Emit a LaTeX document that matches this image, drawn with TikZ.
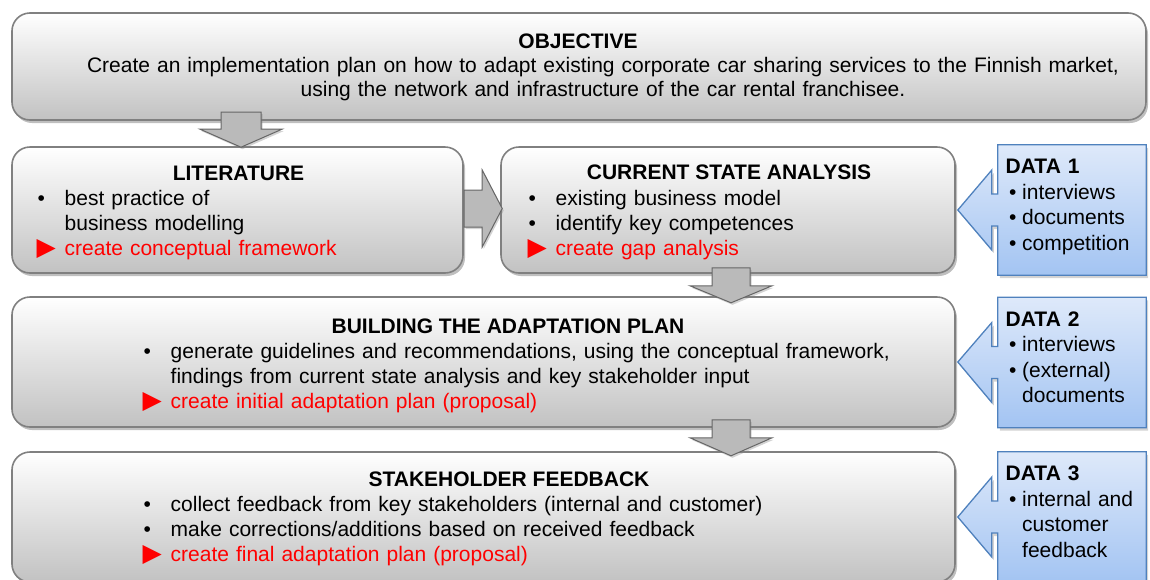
\documentclass[tikz,border=0pt]{standalone}
\usepackage{fontspec}
\setmainfont{Liberation Sans}
\newfontfamily\trifont{DejaVu Sans}
\usepackage{tikz}
\usetikzlibrary{shapes.geometric, arrows, shadows, calc, positioning}
\definecolor{calltop}{RGB}{222,233,250}
\definecolor{callbot}{RGB}{163,196,242}
\definecolor{callline}{RGB}{79,129,189}
\newcommand{\itembul}{\makebox[28pt][l]{\hspace{1pt}\textbullet}}
\newcommand{\itemtri}{\makebox[28pt][l]{\trifont\fontsize{25}{25}\selectfont ▶}}
\newcommand{\itemskip}{\hspace*{28pt}}
\newcommand{\databul}{\makebox[16.5pt][l]{\hspace{3.5pt}\textbullet}}
\newcommand{\dataskip}{\hspace*{16.5pt}}
\tikzstyle{stagebox} = [rectangle, rounded corners=18pt, draw=black!50, line width=1.6pt, top color=white, bottom color=black!24, drop shadow={shadow xshift=2pt, shadow yshift=-3pt, opacity=0.5}]
\tikzstyle{databox} = [rectangle, minimum width=148pt, minimum height=130pt, inner sep=0pt]
\tikzstyle{datacall} = [draw=callline, line width=1.3pt, top color=calltop, bottom color=callbot, drop shadow={shadow xshift=2pt, shadow yshift=-3pt, opacity=0.35}]
\tikzstyle{blockarrow} = [draw=black!60, line width=1pt, fill=black!27, drop shadow={shadow xshift=1.5pt, shadow yshift=-2pt, opacity=0.35}]
\tikzstyle{boxtitle} = [inner sep=0pt, anchor=base, font=\fontsize{21}{25}\selectfont\bfseries]
\tikzstyle{itemlist} = [inner sep=0pt, anchor=north west, text width=820pt, align=left, font=\fontsize{21}{25}\selectfont, execute at begin node=\strut]
\tikzstyle{datalist} = [itemlist, text width=140pt, font=\fontsize{21}{25.5}\selectfont]

\begin{document}
\begin{tikzpicture}[x=1pt, y=-1pt]
		\useasboundingbox (0,0) rectangle (1150,579);
		
		\node (obj) [stagebox, minimum width=1134pt, minimum height=107pt] at (579,66.5) {};
		\node (lit) [stagebox, minimum width=451pt, minimum height=126pt] at (237.5,210) {};
		\node (cur) [stagebox, minimum width=454pt, minimum height=126pt] at (728,210) {};
		\node (bld) [stagebox, minimum width=943pt, minimum height=130pt] at (483.5,362) {};
		\node (stk) [stagebox, minimum width=943pt, minimum height=130pt] at (483.5,517) {};
		
		\draw [blockarrow] ($(lit.north)+(3.5,1)$) -- ++(-41,-18) -- ++(21,0) -- ++(0,-17) -- ++(40,0) -- ++(0,17) -- ++(21,0) -- cycle;
		\draw [blockarrow] ($(cur.west)+(2,-1.5)$) -- ++(-20,-38.5) -- ++(0,20) -- ++(-18,0) -- ++(0,37) -- ++(18,0) -- ++(0,20) -- cycle;
		\draw [blockarrow] ($(cur.south)+(3,29)$) -- ++(-41,-17) -- ++(22,0) -- ++(0,-18) -- ++(38,0) -- ++(0,18) -- ++(22,0) -- cycle;
		\coordinate (m3) at (bld.south -| cur.south);
		\draw [blockarrow] ($(m3)+(3,28)$) -- ++(-41,-18) -- ++(22,0) -- ++(0,-18) -- ++(38,0) -- ++(0,18) -- ++(22,0) -- cycle;
		
		\node (d1) [databox] at (1072,210) {};
		\node (d2) [databox] at (1072,362.5) {};
		\node (d3) [databox] at (1072,517) {};
		\draw [datacall] (d1.north west) -- (d1.north east) -- (d1.south east) -- (d1.south west) -- ($(d1.west)+(0,16)$) -- ++(-6,0) -- ++(0,24) -- ($(cur.east)+(2,0)$) -- ($(d1.west)+(-6,-40)$) -- ++(0,24) -- ++(6,0) -- cycle;
		\draw [datacall] (d2.north west) -- (d2.north east) -- (d2.south east) -- (d2.south west) -- ($(d2.west)+(0,16)$) -- ++(-6,0) -- ++(0,24) -- ($(bld.east)+(2,0)$) -- ($(d2.west)+(-6,-40)$) -- ++(0,24) -- ++(6,0) -- cycle;
		\draw [datacall] (d3.north west) -- (d3.north east) -- (d3.south east) -- (d3.south west) -- ($(d3.west)+(0,16)$) -- ++(-6,0) -- ++(0,24) -- ($(stk.east)+(2,0)$) -- ($(d3.west)+(-6,-40)$) -- ++(0,24) -- ++(6,0) -- cycle;
		
		\node (obj-t) [boxtitle] at (578,48) {OBJECTIVE};
		\node (obj-l) [itemlist, anchor=north, align=center, text width=1080pt, font=\fontsize{21}{24}\selectfont] at (603,55.9) {Create an implementation plan on how to adapt existing corporate car sharing services to the Finnish market,\\ using the network and infrastructure of the car rental franchisee.};
		
		\node (lit-t) [boxtitle] at (238.5,180) {LITERATURE};
		\node (lit-l) [itemlist] at (36.5,187.5) {\itembul best practice of\\ \itemskip business modelling\\ \textcolor{red}{\itemtri create conceptual framework}};
		
		\node (cur-t) [boxtitle] at (729,179.5) {CURRENT STATE ANALYSIS};
		\node (cur-l) [itemlist] at (527.5,187.5) {\itembul existing business model\\ \itembul identify key competences\\ \textcolor{red}{\itemtri create gap analysis}};
		
		\node (bld-t) [boxtitle] at (508,333) {BUILDING THE ADAPTATION PLAN};
		\node (bld-l) [itemlist] at (142.5,340.5) {\itembul generate guidelines and recommendations, using the conceptual framework,\\ \itemskip findings from current state analysis and key stakeholder input\\ \textcolor{red}{\itemtri create initial adaptation plan (proposal)}};
		
		\node (stk-t) [boxtitle] at (509,486.7) {STAKEHOLDER FEEDBACK};
		\node (stk-l) [itemlist] at (142.5,494.2) {\itembul collect feedback from key stakeholders (internal and customer)\\ \itembul make corrections/additions based on received feedback\\ \textcolor{red}{\itemtri create final adaptation plan (proposal)}};
		
		\node (d1-l) [datalist] at (1005.5,155.5) {\textbf{DATA 1}\\ \databul interviews\\ \databul documents\\ \databul competition};
		\node (d2-l) [datalist] at (1005.5,308.2) {\textbf{DATA 2}\\ \databul interviews\\ \databul (external)\\ \dataskip documents};
		\node (d3-l) [datalist] at (1005.5,462.9) {\textbf{DATA 3}\\ \databul internal and\\ \dataskip customer\\ \dataskip feedback};
		
		\end{tikzpicture}
\end{document}
